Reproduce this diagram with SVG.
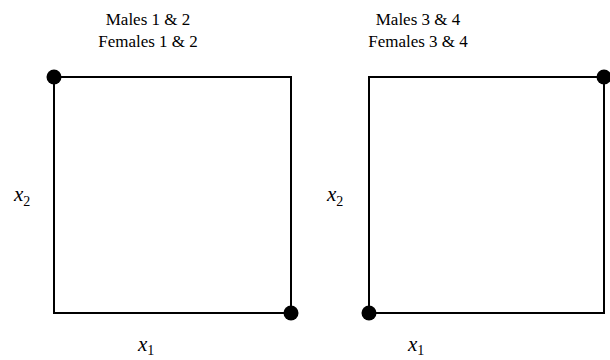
<svg xmlns="http://www.w3.org/2000/svg" width="610" height="360" viewBox="0 0 610 360">
<style>
.t{font-size:17px;text-anchor:middle}
.v{font-size:21px;font-style:italic}
.s{font-size:14px;font-style:normal}
.box{fill:none;stroke:#000;stroke-width:2}
</style>
<rect width="610" height="360" fill="#fff"/>
<g id="left" font-family="Times New Roman, Liberation Serif, DejaVu Serif, serif">
<text class="t" x="148" y="25">Males 1 &amp; 2</text>
<text class="t" x="148" y="47">Females 1 &amp; 2</text>
<rect class="box" x="54" y="77" width="237" height="236"/>
<circle cx="54" cy="77" r="7.5"/>
<circle cx="291" cy="313" r="7.5"/>
<text class="v" x="14" y="201">x<tspan class="s" dy="5">2</tspan></text>
<text class="v" x="138" y="351">x<tspan class="s" dy="4">1</tspan></text>
</g>
<g id="right" font-family="Times New Roman, Liberation Serif, DejaVu Serif, serif">
<text class="t" x="418" y="25">Males 3 &amp; 4</text>
<text class="t" x="418" y="47">Females 3 &amp; 4</text>
<rect class="box" x="369" y="77" width="235" height="236"/>
<circle cx="604" cy="77" r="7.5"/>
<circle cx="369" cy="313" r="7.5"/>
<text class="v" x="327" y="201">x<tspan class="s" dy="5">2</tspan></text>
<text class="v" x="408" y="351">x<tspan class="s" dy="4">1</tspan></text>
</g>
<g id="connectors"></g>
</svg>
